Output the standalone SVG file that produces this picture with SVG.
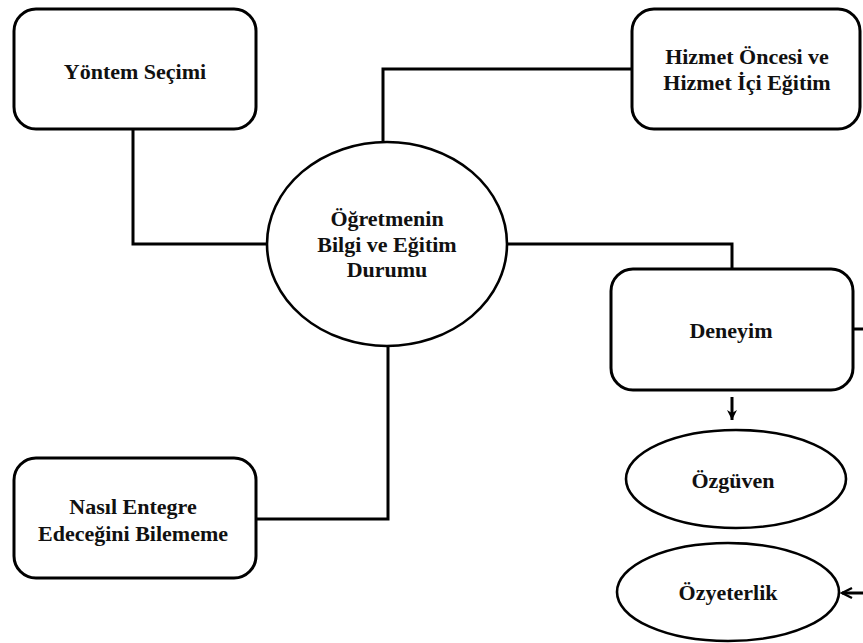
<svg xmlns="http://www.w3.org/2000/svg" width="863" height="643" viewBox="0 0 863 643">
<style>
.box{fill:#fff;stroke:#000;stroke-width:3}
.ell{fill:#fff;stroke:#000;stroke-width:2.6}
.ln{fill:none;stroke:#000;stroke-width:3}
.t{font-family:"Liberation Serif","Times New Roman",serif;font-weight:bold;font-size:22px;fill:#111;text-anchor:middle}
</style>
<defs>
<marker id="ah" markerWidth="14" markerHeight="14" viewBox="-11 -7 14 14" refX="0" refY="0" orient="auto" markerUnits="userSpaceOnUse">
<path d="M-10,-5 L0,0 L-10,5 L-7,0 Z" fill="#000"/>
</marker>
<marker id="oh" markerWidth="14" markerHeight="14" viewBox="-12 -7 14 14" refX="0" refY="0" orient="auto" markerUnits="userSpaceOnUse">
<path d="M-10,-5 L0,0 L-10,5" fill="none" stroke="#000" stroke-width="2.4"/>
</marker>
</defs>
<g id="connectors">
<polyline class="ln" points="133,129 133,244 268,244"/>
<polyline class="ln" points="383,143 383,69 632,69"/>
<polyline class="ln" points="507,244 732,244 732,269"/>
<polyline class="ln" points="388,346 388,519 256,519"/>
<line class="ln" x1="852" y1="329" x2="863" y2="329"/>
<line class="ln" x1="732" y1="397" x2="732" y2="420" marker-end="url(#ah)"/>
<line class="ln" x1="863" y1="593" x2="842" y2="593" marker-end="url(#oh)"/>
</g>
<g id="yontem">
<rect class="box" x="14" y="9" width="242" height="120" rx="22"/>
<text class="t" x="135" y="79">Yöntem Seçimi</text>
</g>
<g id="hizmet">
<rect class="box" x="632" y="9" width="228" height="120" rx="22"/>
<text class="t" x="747" y="64">Hizmet Öncesi ve</text>
<text class="t" x="747" y="90">Hizmet İçi Eğitim</text>
</g>
<g id="ogretmen">
<ellipse class="ell" cx="387" cy="244" rx="120" ry="102"/>
<text class="t" x="387" y="226">Öğretmenin</text>
<text class="t" x="387" y="252">Bilgi ve Eğitim</text>
<text class="t" x="387" y="277">Durumu</text>
</g>
<g id="deneyim">
<rect class="box" x="611" y="269" width="242" height="121" rx="22"/>
<text class="t" x="731" y="338">Deneyim</text>
</g>
<g id="ozguven">
<ellipse class="ell" cx="736" cy="479" rx="110" ry="49"/>
<text class="t" x="733" y="488">Özgüven</text>
</g>
<g id="ozyeterlik">
<ellipse class="ell" cx="728" cy="592" rx="111" ry="49"/>
<text class="t" x="728" y="600">Özyeterlik</text>
</g>
<g id="nasil">
<rect class="box" x="14" y="458" width="242" height="120" rx="22"/>
<text class="t" x="133" y="514">Nasıl Entegre</text>
<text class="t" x="133" y="541">Edeceğini Bilememe</text>
</g>
</svg>
